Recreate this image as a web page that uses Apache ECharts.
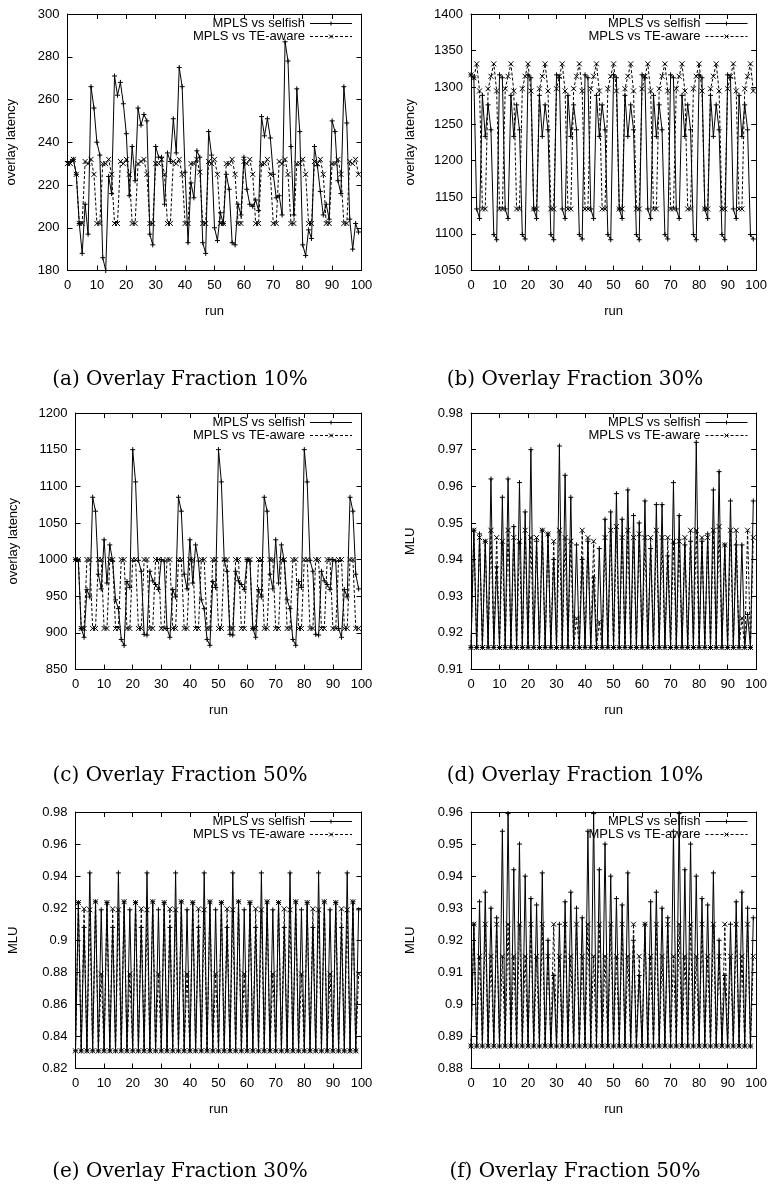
<!DOCTYPE html>
<html>
<head>
<meta charset="utf-8">
<script src="https://cdn.jsdelivr.net/npm/echarts@6/dist/echarts.min.js"></script>
<style>
  html, body { margin: 0; padding: 0; background: #fff; }
  #main { width: 770px; height: 1196px; }
</style>
</head>
<body>
<div id="main"></div>
<script>
// run index (x axis), 0..99
var runs = []
for (var r = 0; r < 100; r++) runs.push(r)

// (a) overlay latency, fraction 10%
var aSelfish = [
  231, 231, 232, 225, 202, 188, 211, 197, 266, 256,
  240, 234, 186, 180, 224, 216, 271, 262, 268, 258,
  244, 215, 238, 222, 256, 248, 253, 250, 197, 192,
  238, 233, 233, 211, 235, 231, 251, 235, 275, 266,
  226, 193, 221, 214, 236, 233, 193, 188, 245, 234,
  200, 194, 207, 202, 225, 218, 193, 192, 211, 206,
  233, 218, 211, 210, 213, 208, 252, 243, 251, 242,
  225, 214, 215, 206, 287, 278, 238, 206, 265, 245,
  192, 187, 199, 195, 238, 229, 217, 206, 211, 204,
  250, 245, 222, 216, 266, 249, 204, 190, 202, 198
]
var aTE = [
  230, 230, 232, 225, 202, 202, 231, 230, 232, 225,
  202, 202, 230, 230, 232, 225, 202, 202, 231, 230,
  232, 225, 202, 202, 230, 231, 232, 225, 202, 202,
  230, 230, 232, 225, 202, 202, 231, 230, 232, 225,
  202, 202, 230, 230, 232, 226, 202, 202, 231, 230,
  232, 225, 202, 202, 230, 230, 232, 225, 202, 202,
  231, 230, 232, 225, 202, 202, 230, 230, 232, 225,
  202, 202, 231, 230, 232, 225, 202, 202, 230, 230,
  232, 225, 202, 202, 231, 230, 232, 225, 202, 202,
  230, 230, 232, 225, 202, 202, 231, 230, 232, 225
]

// (b) overlay latency, fraction 30%
var bSelfish = [
  1317, 1313, 1134, 1121, 1289, 1233, 1276, 1242, 1099, 1092,
  1317, 1313, 1134, 1121, 1289, 1233, 1276, 1242, 1099, 1093,
  1317, 1313, 1134, 1121, 1289, 1233, 1276, 1242, 1099, 1092,
  1317, 1313, 1134, 1121, 1289, 1233, 1276, 1242, 1099, 1093,
  1317, 1313, 1134, 1121, 1289, 1233, 1276, 1242, 1099, 1092,
  1317, 1313, 1134, 1121, 1289, 1233, 1276, 1242, 1099, 1092,
  1317, 1313, 1134, 1121, 1289, 1233, 1276, 1242, 1099, 1093,
  1317, 1313, 1134, 1121, 1289, 1233, 1276, 1242, 1099, 1092,
  1317, 1313, 1134, 1121, 1289, 1233, 1276, 1242, 1099, 1092,
  1317, 1313, 1134, 1121, 1289, 1233, 1276, 1242, 1099, 1093
]
var bTE = [
  1317, 1313, 1332, 1295, 1134, 1134, 1298, 1315, 1332, 1295,
  1134, 1134, 1298, 1315, 1332, 1295, 1134, 1134, 1298, 1315,
  1332, 1295, 1134, 1134, 1298, 1315, 1332, 1295, 1134, 1134,
  1298, 1315, 1332, 1295, 1134, 1134, 1298, 1315, 1332, 1295,
  1134, 1134, 1298, 1315, 1332, 1295, 1134, 1134, 1298, 1315,
  1332, 1295, 1134, 1134, 1298, 1315, 1332, 1295, 1134, 1134,
  1298, 1315, 1332, 1295, 1134, 1134, 1298, 1315, 1332, 1295,
  1134, 1134, 1298, 1315, 1332, 1295, 1134, 1134, 1298, 1315,
  1332, 1295, 1134, 1134, 1298, 1315, 1332, 1295, 1134, 1134,
  1298, 1315, 1332, 1295, 1134, 1134, 1298, 1315, 1332, 1295
]

// (c) overlay latency, fraction 50%
var cSelfish = [
  1000, 998, 906, 894, 959, 949, 1085, 1066, 980, 960,
  1027, 968, 1020, 998, 945, 933, 891, 883, 970, 962,
  1150, 1106, 999, 984, 898, 897, 984, 971, 966, 959,
  1000, 998, 906, 894, 959, 949, 1085, 1066, 980, 960,
  1027, 968, 1020, 998, 945, 933, 891, 883, 970, 962,
  1150, 1106, 999, 984, 898, 897, 984, 971, 966, 959,
  1000, 998, 906, 894, 959, 949, 1085, 1066, 980, 960,
  1027, 968, 1020, 998, 945, 933, 891, 883, 970, 962,
  1150, 1106, 999, 984, 898, 897, 984, 971, 966, 959,
  1000, 998, 906, 894, 959, 949, 1085, 1066, 980, 960
]
var cTE = [
  1000, 1000, 906, 906, 1000, 1000, 906, 906, 1000, 1000,
  906, 906, 1000, 1000, 906, 906, 1000, 1000, 906, 906,
  1000, 1000, 906, 906, 1000, 1000, 906, 906, 1000, 1000,
  906, 906, 1000, 1000, 906, 906, 1000, 1000, 906, 906,
  1000, 1000, 906, 906, 1000, 1000, 906, 906, 1000, 1000,
  906, 906, 1000, 1000, 906, 906, 1000, 1000, 906, 906,
  1000, 1000, 906, 906, 1000, 1000, 906, 906, 1000, 1000,
  906, 906, 1000, 1000, 906, 906, 1000, 1000, 906, 906,
  1000, 1000, 906, 906, 1000, 1000, 906, 906, 1000, 1000,
  906, 906, 1000, 1000, 906, 906, 1000, 1000, 906, 906
]

// (d) MLU, fraction 10%
var dSelfish = [
  0.916, 0.948, 0.916, 0.947, 0.916, 0.945, 0.916, 0.962, 0.916, 0.938,
  0.916, 0.957, 0.916, 0.962, 0.916, 0.949, 0.916, 0.961, 0.916, 0.953,
  0.916, 0.970, 0.916, 0.945, 0.916, 0.948, 0.916, 0.947, 0.916, 0.940,
  0.916, 0.971, 0.916, 0.963, 0.916, 0.957, 0.916, 0.944, 0.916, 0.940,
  0.916, 0.945, 0.916, 0.935, 0.916, 0.943, 0.916, 0.951, 0.916, 0.953,
  0.916, 0.958, 0.916, 0.951, 0.916, 0.959, 0.916, 0.952, 0.916, 0.950,
  0.916, 0.956, 0.916, 0.943, 0.916, 0.955, 0.916, 0.955, 0.916, 0.941,
  0.916, 0.961, 0.916, 0.952, 0.916, 0.944, 0.916, 0.945, 0.916, 0.972,
  0.916, 0.945, 0.916, 0.947, 0.916, 0.959, 0.916, 0.964, 0.916, 0.944,
  0.916, 0.956, 0.916, 0.944, 0.916, 0.944, 0.916, 0.925, 0.916, 0.956
]
var dTE = [
  0.916, 0.948, 0.916, 0.946, 0.916, 0.945, 0.916, 0.948, 0.916, 0.946,
  0.916, 0.945, 0.916, 0.948, 0.916, 0.946, 0.916, 0.945, 0.916, 0.948,
  0.916, 0.946, 0.916, 0.946, 0.916, 0.948, 0.916, 0.947, 0.916, 0.945,
  0.916, 0.948, 0.916, 0.946, 0.916, 0.945, 0.916, 0.924, 0.916, 0.948,
  0.916, 0.946, 0.916, 0.945, 0.916, 0.923, 0.916, 0.946, 0.916, 0.948,
  0.916, 0.949, 0.916, 0.946, 0.916, 0.948, 0.916, 0.946, 0.916, 0.947,
  0.916, 0.946, 0.916, 0.946, 0.916, 0.948, 0.916, 0.946, 0.916, 0.946,
  0.916, 0.945, 0.916, 0.945, 0.916, 0.946, 0.916, 0.948, 0.916, 0.948,
  0.916, 0.946, 0.916, 0.946, 0.916, 0.948, 0.916, 0.949, 0.916, 0.944,
  0.916, 0.948, 0.916, 0.948, 0.916, 0.924, 0.916, 0.948, 0.916, 0.946
]

// (e) MLU, fraction 30%
var eSelfish = [
  0.831, 0.9235, 0.831, 0.908, 0.831, 0.942, 0.831, 0.924, 0.831, 0.919,
  0.831, 0.9235, 0.831, 0.908, 0.831, 0.942, 0.831, 0.924, 0.831, 0.919,
  0.831, 0.9235, 0.831, 0.908, 0.831, 0.942, 0.831, 0.924, 0.831, 0.919,
  0.831, 0.9235, 0.831, 0.908, 0.831, 0.942, 0.831, 0.924, 0.831, 0.919,
  0.831, 0.9235, 0.831, 0.908, 0.831, 0.942, 0.831, 0.924, 0.831, 0.919,
  0.831, 0.9235, 0.831, 0.908, 0.831, 0.942, 0.831, 0.924, 0.831, 0.919,
  0.831, 0.9235, 0.831, 0.908, 0.831, 0.942, 0.831, 0.924, 0.831, 0.919,
  0.831, 0.9235, 0.831, 0.908, 0.831, 0.942, 0.831, 0.924, 0.831, 0.919,
  0.831, 0.9235, 0.831, 0.908, 0.831, 0.942, 0.831, 0.924, 0.831, 0.919,
  0.831, 0.9235, 0.831, 0.908, 0.831, 0.942, 0.831, 0.924, 0.831, 0.919
]
var eTE = [
  0.831, 0.9235, 0.831, 0.9196, 0.831, 0.919, 0.831, 0.924, 0.831, 0.879,
  0.831, 0.9235, 0.831, 0.9196, 0.831, 0.919, 0.831, 0.924, 0.831, 0.879,
  0.831, 0.9235, 0.831, 0.9196, 0.831, 0.919, 0.831, 0.924, 0.831, 0.879,
  0.831, 0.9235, 0.831, 0.9196, 0.831, 0.919, 0.831, 0.924, 0.831, 0.879,
  0.831, 0.9235, 0.831, 0.9196, 0.831, 0.919, 0.831, 0.924, 0.831, 0.879,
  0.831, 0.9235, 0.831, 0.9196, 0.831, 0.919, 0.831, 0.924, 0.831, 0.879,
  0.831, 0.9235, 0.831, 0.9196, 0.831, 0.919, 0.831, 0.924, 0.831, 0.879,
  0.831, 0.9235, 0.831, 0.9196, 0.831, 0.919, 0.831, 0.924, 0.831, 0.879,
  0.831, 0.9235, 0.831, 0.9196, 0.831, 0.919, 0.831, 0.924, 0.831, 0.879,
  0.831, 0.9235, 0.831, 0.9196, 0.831, 0.919, 0.831, 0.924, 0.831, 0.879
]

// (f) MLU, fraction 50%
var fSelfish = [
  0.887, 0.925, 0.887, 0.932, 0.887, 0.935, 0.887, 0.930, 0.887, 0.927,
  0.887, 0.954, 0.887, 0.9595, 0.887, 0.942, 0.887, 0.950, 0.887, 0.940,
  0.887, 0.933, 0.887, 0.931, 0.887, 0.941, 0.887, 0.920, 0.887, 0.909,
  0.887, 0.925, 0.887, 0.932, 0.887, 0.935, 0.887, 0.930, 0.887, 0.927,
  0.887, 0.954, 0.887, 0.9595, 0.887, 0.942, 0.887, 0.950, 0.887, 0.940,
  0.887, 0.933, 0.887, 0.931, 0.887, 0.941, 0.887, 0.920, 0.887, 0.909,
  0.887, 0.925, 0.887, 0.932, 0.887, 0.935, 0.887, 0.930, 0.887, 0.927,
  0.887, 0.954, 0.887, 0.9595, 0.887, 0.942, 0.887, 0.950, 0.887, 0.940,
  0.887, 0.933, 0.887, 0.931, 0.887, 0.941, 0.887, 0.920, 0.887, 0.909,
  0.887, 0.925, 0.887, 0.932, 0.887, 0.935, 0.887, 0.930, 0.887, 0.927
]
var fTE = [
  0.887, 0.925, 0.887, 0.915, 0.887, 0.925, 0.887, 0.915, 0.887, 0.925,
  0.887, 0.915, 0.887, 0.925, 0.887, 0.915, 0.887, 0.925, 0.887, 0.915,
  0.887, 0.925, 0.887, 0.915, 0.887, 0.925, 0.887, 0.915, 0.887, 0.925,
  0.887, 0.915, 0.887, 0.925, 0.887, 0.915, 0.887, 0.925, 0.887, 0.915,
  0.887, 0.925, 0.887, 0.915, 0.887, 0.925, 0.887, 0.915, 0.887, 0.925,
  0.887, 0.915, 0.887, 0.925, 0.887, 0.915, 0.887, 0.925, 0.887, 0.915,
  0.887, 0.925, 0.887, 0.915, 0.887, 0.925, 0.887, 0.915, 0.887, 0.925,
  0.887, 0.915, 0.887, 0.925, 0.887, 0.915, 0.887, 0.925, 0.887, 0.915,
  0.887, 0.925, 0.887, 0.915, 0.887, 0.925, 0.887, 0.915, 0.887, 0.925,
  0.887, 0.915, 0.887, 0.925, 0.887, 0.915, 0.887, 0.925, 0.887, 0.915
]

var xTicks = { min: 0, max: 100, interval: 10 }
var panels = [
  { sel: aSelfish, te: aTE, yMin: 180, yMax: 300, yStep: 20, yName: 'overlay latency', caption: '(a) Overlay Fraction 10%' },
  { sel: bSelfish, te: bTE, yMin: 1050, yMax: 1400, yStep: 50, yName: 'overlay latency', caption: '(b) Overlay Fraction 30%' },
  { sel: cSelfish, te: cTE, yMin: 850, yMax: 1200, yStep: 50, yName: 'overlay latency', caption: '(c) Overlay Fraction 50%' },
  { sel: dSelfish, te: dTE, yMin: 0.91, yMax: 0.98, yStep: 0.01, yName: 'MLU', caption: '(d) Overlay Fraction 10%' },
  { sel: eSelfish, te: eTE, yMin: 0.82, yMax: 0.98, yStep: 0.02, yName: 'MLU', caption: '(e) Overlay Fraction 30%' },
  { sel: fSelfish, te: fTE, yMin: 0.88, yMax: 0.96, yStep: 0.01, yName: 'MLU', caption: '(f) Overlay Fraction 50%' },
]

// plot boxes (px)
var boxes = [
  { left: 67.5, top: 14, width: 294, height: 256.5, capX: 180, capY: 380, nameGap: 50 },
  { left: 471, top: 14, width: 286, height: 256.5, capX: 575, capY: 380, nameGap: 54 },
  { left: 75.5, top: 413, width: 286, height: 256.5, capX: 180, capY: 776, nameGap: 56 },
  { left: 471, top: 413, width: 286, height: 256.5, capX: 575, capY: 776, nameGap: 54 },
  { left: 75.5, top: 812, width: 286, height: 256.5, capX: 180, capY: 1172, nameGap: 56 },
  { left: 471, top: 812, width: 286, height: 256.5, capX: 575, capY: 1172, nameGap: 54 },
]

var SANS = 'Liberation Sans'
var PLUS = 'path://M0,5L10,5M5,0L5,10'
var CROSS = 'path://M0,0L10,10M10,0L0,10'

function plainNum(v) {
  return String(Math.round(v * 10000) / 10000)
}

var option = {
  animation: false,
  grid: [],
  xAxis: [],
  yAxis: [],
  legend: [],
  series: [],
  graphic: [],
}

panels.forEach(function(p, i) {
  var b = boxes[i]
  option.grid.push({ left: b.left, top: b.top, width: b.width, height: b.height, containLabel: false })

  ;['bottom', 'top'].forEach(function(pos) {
    option.xAxis.push({
      gridIndex: i,
      type: 'value',
      position: pos,
      min: xTicks.min,
      max: xTicks.max,
      interval: xTicks.interval,
      axisLine: { show: true, onZero: false, lineStyle: { color: '#000', width: 1 } },
      axisTick: { show: true, inside: true, length: 5, lineStyle: { color: '#000' } },
      axisLabel: { show: pos === 'bottom', color: '#000', fontSize: 13, fontFamily: SANS, margin: 8, formatter: plainNum },
      splitLine: { show: false },
      name: pos === 'bottom' ? 'run' : '',
      nameLocation: 'middle',
      nameGap: 34,
      nameTextStyle: { color: '#000', fontSize: 13, fontFamily: SANS },
    })
  })
  ;['left', 'right'].forEach(function(pos) {
    option.yAxis.push({
      gridIndex: i,
      type: 'value',
      position: pos,
      min: p.yMin,
      max: p.yMax,
      interval: p.yStep,
      axisLine: { show: true, onZero: false, lineStyle: { color: '#000', width: 1 } },
      axisTick: { show: true, inside: true, length: 5, lineStyle: { color: '#000' } },
      axisLabel: { show: pos === 'left', color: '#000', fontSize: 13, fontFamily: SANS, margin: 8, formatter: plainNum },
      splitLine: { show: false },
      name: pos === 'left' ? p.yName : '',
      nameLocation: 'middle',
      nameGap: b.nameGap,
      nameTextStyle: { color: '#000', fontSize: 13, fontFamily: SANS },
    })
  })

  var common = {
    type: 'line',
    xAxisIndex: i * 2,
    yAxisIndex: i * 2,
    symbolSize: 5,
    showAllSymbol: true,
    clip: true,
  }
  option.series.push(Object.assign({}, common, {
    name: 'MPLS vs selfish',
    data: p.sel.map(function(v, k) { return [runs[k], v] }),
    symbol: PLUS,
    lineStyle: { color: '#000', width: 1, type: 'solid' },
    itemStyle: { color: '#000', borderColor: '#000', borderWidth: 1 },
  }))
  option.series.push(Object.assign({}, common, {
    name: 'MPLS vs TE-aware',
    data: p.te.map(function(v, k) { return [runs[k], v] }),
    symbol: CROSS,
    lineStyle: { color: '#000', width: 1, type: [3, 2] },
    itemStyle: { color: '#000', borderColor: '#000', borderWidth: 1 },
  }))

  option.legend.push({
    orient: 'vertical',
    align: 'right',
    top: b.top + 3,
    right: 770 - (b.left + b.width) + 9,
    itemWidth: 42,
    itemHeight: 5,
    itemGap: 0,
    selectedMode: false,
    padding: 0,
    lineStyle: { width: 1 },
    itemStyle: { borderWidth: 1 },
    textStyle: { color: '#000', fontSize: 13, fontFamily: SANS, lineHeight: 13 },
    data: ['MPLS vs selfish', 'MPLS vs TE-aware'],
  })

  option.graphic.push({
    type: 'text',
    x: b.capX,
    y: b.capY,
    style: {
      text: p.caption,
      font: '20px "DejaVu Serif"',
      fill: '#000',
      textAlign: 'center',
      textVerticalAlign: 'middle',
    },
  })
})

var myChart = echarts.init(document.getElementById('main'), null, { renderer: 'canvas' })
myChart.setOption(option)
</script>
</body>
</html>
